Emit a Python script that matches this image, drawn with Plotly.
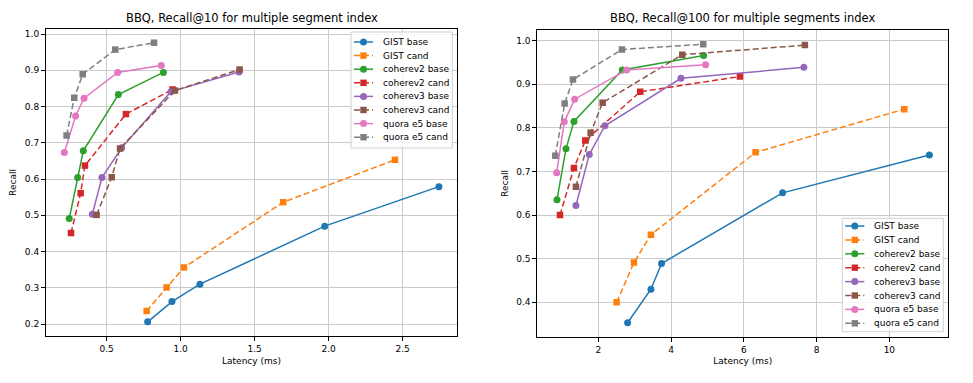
import plotly.graph_objects as go

# ---------------- data ----------------
series_names = ["GIST base", "GIST cand", "coherev2 base", "coherev2 cand",
                "coherev3 base", "coherev3 cand", "quora e5 base", "quora e5 cand"]
series_colors = ["#1f77b4", "#ff7f0e", "#2ca02c", "#d62728",
                 "#9467bd", "#8c564b", "#e377c2", "#7f7f7f"]

# Recall@10 chart
lat10 = {
    "GIST base":     [0.777, 0.941, 1.130, 1.973, 2.745],
    "GIST cand":     [0.770, 0.905, 1.022, 1.693, 2.448],
    "coherev2 base": [0.247, 0.304, 0.342, 0.579, 0.883],
    "coherev2 cand": [0.259, 0.324, 0.353, 0.630, 0.945],
    "coherev3 base": [0.403, 0.468, 0.601, 0.934, 1.394],
    "coherev3 cand": [0.432, 0.534, 0.590, 0.961, 1.398],
    "quora e5 base": [0.214, 0.290, 0.347, 0.574, 0.869],
    "quora e5 cand": [0.229, 0.281, 0.338, 0.558, 0.820],
}
rec10 = {
    "GIST base":     [0.206, 0.262, 0.310, 0.470, 0.579],
    "GIST cand":     [0.236, 0.301, 0.356, 0.536, 0.653],
    "coherev2 base": [0.491, 0.604, 0.678, 0.833, 0.894],
    "coherev2 cand": [0.451, 0.561, 0.637, 0.779, 0.847],
    "coherev3 base": [0.503, 0.604, 0.686, 0.841, 0.895],
    "coherev3 cand": [0.501, 0.605, 0.684, 0.844, 0.902],
    "quora e5 base": [0.673, 0.774, 0.823, 0.894, 0.913],
    "quora e5 cand": [0.720, 0.824, 0.889, 0.957, 0.976],
}

# Recall@100 chart
lat100 = {
    "GIST base":     [2.807, 3.448, 3.740, 7.066, 11.10],
    "GIST cand":     [2.505, 2.981, 3.448, 6.324, 10.41],
    "coherev2 base": [0.865, 1.113, 1.332, 2.660, 4.895],
    "coherev2 cand": [0.948, 1.332, 1.644, 3.154, 5.893],
    "coherev3 base": [1.387, 1.753, 2.184, 4.272, 7.651],
    "coherev3 cand": [1.387, 1.791, 2.121, 4.308, 7.679],
    "quora e5 base": [0.857, 1.066, 1.352, 2.780, 4.950],
    "quora e5 cand": [0.819, 1.077, 1.305, 2.651, 4.885],
}
rec100 = {
    "GIST base":     [0.353, 0.430, 0.489, 0.651, 0.738],
    "GIST cand":     [0.400, 0.491, 0.555, 0.744, 0.843],
    "coherev2 base": [0.635, 0.752, 0.815, 0.933, 0.966],
    "coherev2 cand": [0.600, 0.708, 0.771, 0.883, 0.918],
    "coherev3 base": [0.622, 0.739, 0.805, 0.914, 0.939],
    "coherev3 cand": [0.665, 0.789, 0.858, 0.968, 0.990],
    "quora e5 base": [0.697, 0.814, 0.866, 0.933, 0.945],
    "quora e5 cand": [0.736, 0.856, 0.911, 0.980, 0.992],
}

titles = ["BBQ, Recall@10 for multiple segment index",
          "BBQ, Recall@100 for multiple segments index"]
x_title = "Latency (ms)"
y_title = "Recall"
x_ticks_left = [0.5, 1.0, 1.5, 2.0, 2.5]
x_ticks_right = [2, 4, 6, 8, 10]

# ---------------- figure ----------------
W, H = 973, 383
FONT = "DejaVu Sans"
DASH = "6px,3px"

fig = go.Figure()


def px_x(p):
    return p / W


def px_y(p):
    return 1 - p / H


for (lat, rec, xa, ya) in [(lat10, rec10, "x", "y"), (lat100, rec100, "x2", "y2")]:
    for name, col in zip(series_names, series_colors):
        cand = name.endswith("cand")
        fig.add_trace(go.Scatter(
            x=lat[name], y=rec[name], name=name, xaxis=xa, yaxis=ya,
            mode="lines+markers", showlegend=False,
            line=dict(color=col, width=1.5, dash=DASH if cand else "solid"),
            marker=dict(color=col, size=6.5 if cand else 7,
                        symbol="square" if cand else "circle", line=dict(width=0)),
        ))

axis_common = dict(
    showline=True, mirror=True, linecolor="black", linewidth=1,
    ticks="outside", ticklen=4, tickcolor="black", tickwidth=1,
    showgrid=True, gridcolor="#cbcbcb", gridwidth=1, zeroline=False,
    tickfont=dict(family=FONT, size=9, color="black"),
    automargin=False,
)

fig.update_layout(
    width=W, height=H, autosize=False,
    margin=dict(l=0, r=0, t=0, b=0),
    paper_bgcolor="white", plot_bgcolor="white",
    font=dict(family=FONT, color="black"),
    xaxis=dict(axis_common, domain=[px_x(46), px_x(457)], range=[0.09, 2.867],
               tickvals=x_ticks_left, tickformat=".1f", anchor="y",
               title=dict(text=x_title, font=dict(size=9), standoff=4)),
    yaxis=dict(axis_common, domain=[px_y(336), px_y(29)], range=[0.167, 1.0138],
               dtick=0.1, tick0=0, tickformat=".1f", anchor="x",
               title=dict(text=y_title, font=dict(size=9), standoff=6)),
    xaxis2=dict(axis_common, domain=[px_x(537.3), px_x(948.3)], range=[0.325, 11.62],
                tickvals=x_ticks_right, anchor="y2",
                title=dict(text=x_title, font=dict(size=9), standoff=4)),
    yaxis2=dict(axis_common, domain=[px_y(336.7), px_y(30.3)], range=[0.321, 1.024],
                dtick=0.1, tick0=0, tickformat=".1f", anchor="x2",
                title=dict(text=y_title, font=dict(size=9), standoff=6)),
)

# subplot titles
for t, cx in zip(titles, [(46 + 457) / 2, (537.3 + 948.3) / 2]):
    fig.add_annotation(text=t, x=px_x(cx), y=px_y(18), xref="paper", yref="paper",
                       xanchor="center", yanchor="middle", showarrow=False,
                       font=dict(family=FONT, size=11.5, color="black"))


# custom compact legends (matplotlib style)
def add_legend(left, top, right, bottom, first_y, step):
    fig.add_shape(type="rect", xref="paper", yref="paper",
                  x0=px_x(left), x1=px_x(right), y0=px_y(bottom), y1=px_y(top),
                  fillcolor="rgba(255,255,255,0.8)", line=dict(color="#d0d0d0", width=1),
                  layer="above")
    for i, (name, col) in enumerate(zip(series_names, series_colors)):
        cand = name.endswith("cand")
        yy = px_y(first_y + i * step)
        fig.add_shape(type="line", xref="paper", yref="paper",
                      x0=px_x(left + 3), x1=px_x(left + 22), y0=yy, y1=yy,
                      line=dict(color=col, width=1.5, dash=DASH if cand else "solid"),
                      layer="above")
        s = 3.2 if cand else 3.5
        fig.add_shape(type="rect" if cand else "circle", xref="paper", yref="paper",
                      xsizemode="pixel", ysizemode="pixel",
                      xanchor=px_x(left + 12.5), yanchor=yy,
                      x0=-s, x1=s, y0=-s, y1=s,
                      fillcolor=col, line=dict(width=0), layer="above")
        fig.add_annotation(text=name, x=px_x(left + 30), y=yy, xref="paper", yref="paper",
                           xanchor="left", yanchor="middle", showarrow=False,
                           font=dict(family=FONT, size=9, color="black"))


add_legend(351, 32, 452.3, 148, 42, 13.6)
add_legend(842.3, 218.3, 943.3, 331.7, 226, 13.9)

fig.write_html("out.html",
               config={"displayModeBar": False, "staticPlot": True},
               post_script="document.body.style.margin='0px';document.body.style.overflow='hidden';")
